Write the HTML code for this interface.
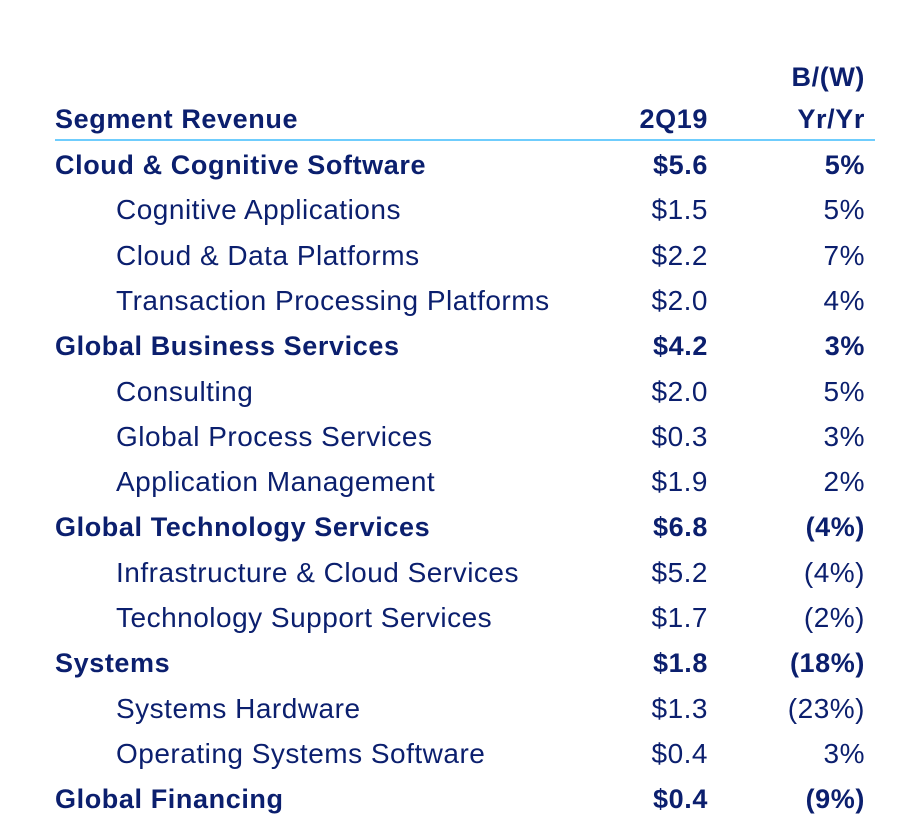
<!DOCTYPE html>
<html><head><meta charset="utf-8"><style>
body{margin:0;width:898px;height:838px;background:#fff;position:relative;overflow:hidden;font-family:"Liberation Sans",sans-serif;color:#0b1f6e}
.t{position:absolute;font-size:28px;line-height:30px;white-space:nowrap;letter-spacing:0.5px}
.b{font-weight:bold;font-size:27px;letter-spacing:0.6px}
.l{left:55px}.s{left:116px}
.v{right:190px;text-align:right}.p{right:33px;text-align:right}
#rule{position:absolute;left:55px;width:820px;top:139px;height:2px;background:#6fcdfd}
</style></head><body>
<div class="t b p" style="top:62px">B/(W)</div>
<div class="t b l" style="top:104px">Segment Revenue</div>
<div class="t b v" style="top:104px">2Q19</div>
<div class="t b p" style="top:104px">Yr/Yr</div>
<div id="rule"></div>
<script>
const labels=["Cloud & Cognitive Software","Cognitive Applications","Cloud & Data Platforms","Transaction Processing Platforms","Global Business Services","Consulting","Global Process Services","Application Management","Global Technology Services","Infrastructure & Cloud Services","Technology Support Services","Systems","Systems Hardware","Operating Systems Software","Global Financing"];
const bold=[1,0,0,0,1,0,0,0,1,0,0,1,0,0,1];
const revenue=["$5.6","$1.5","$2.2","$2.0","$4.2","$2.0","$0.3","$1.9","$6.8","$5.2","$1.7","$1.8","$1.3","$0.4","$0.4"];
const change=["5%","5%","7%","4%","3%","5%","3%","2%","(4%)","(4%)","(2%)","(18%)","(23%)","3%","(9%)"];
const c=document.body;
labels.forEach((lab,i)=>{
 const top=150+i*45.3;
 const b=bold[i]?' b':'';
 const a=document.createElement('div');a.className='t'+b+(bold[i]?' l':' s');a.style.top=top+'px';a.textContent=lab;
 
 
 c.appendChild(a);
 const v=document.createElement('div');v.className='t v'+b;v.style.top=top+'px';v.textContent=revenue[i];
 
 
 c.appendChild(v);
 const p=document.createElement('div');p.className='t p'+b;p.style.top=top+'px';p.textContent=change[i];
 
 
 c.appendChild(p);
});
</script>
</body></html>
